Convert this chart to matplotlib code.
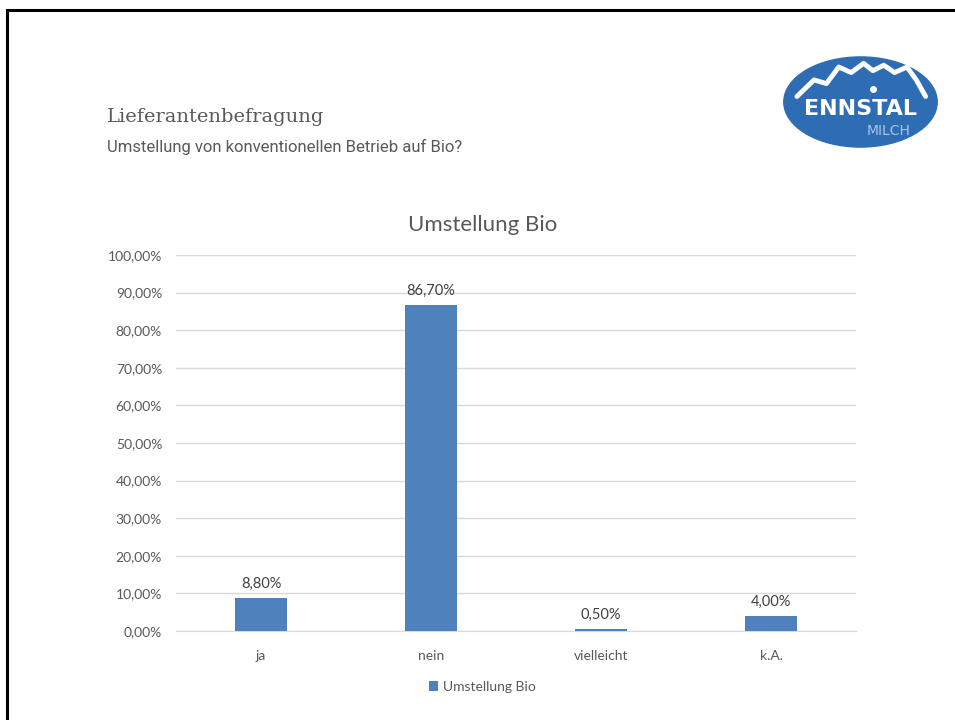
import matplotlib.pyplot as plt
from matplotlib.patches import Ellipse
from matplotlib.lines import Line2D

categories = ["ja", "nein", "vielleicht", "k.A."]
values = [8.80, 86.70, 0.50, 4.00]
series_name = "Umstellung Bio"

bar_color = "#4f81bd"
text_color = "#595959"

fig = plt.figure(figsize=(9.55, 7.2), dpi=100)
fig.patch.set_facecolor("white")

# slide frame (top and left edges visible)
fig.add_artist(Line2D([7 / 955, 7 / 955], [0, 1 - 10 / 720], color="black", lw=2.2))
fig.add_artist(Line2D([7 / 955, 1], [1 - 10 / 720, 1 - 10 / 720], color="black", lw=2.2))

# slide headings
fig.text(107 / 955, 1 - 117 / 720, "Lieferantenbefragung", family="DejaVu Serif",
         fontsize=14, color=text_color, va="center", ha="left")
fig.text(107 / 955, 1 - 147 / 720, "Umstellung von konventionellen Betrieb auf Bio?",
         family="Roboto", fontsize=12, color=text_color,
         va="center", ha="left")

# logo
logo = fig.add_axes([783 / 955, 1 - 148 / 720, 155 / 955, 92 / 720])
logo.set_xlim(0, 1)
logo.set_ylim(0, 1)
logo.axis("off")
logo.add_patch(Ellipse((0.5, 0.5), 0.99, 0.98, color="#2e6db4"))
mx = [0.09, 0.20, 0.28, 0.36, 0.44, 0.52, 0.58, 0.65, 0.72, 0.80, 0.86, 0.92]
my = [0.56, 0.74, 0.70, 0.88, 0.82, 0.92, 0.84, 0.90, 0.82, 0.88, 0.74, 0.56]
logo.plot(mx, my, color="white", lw=3.5, solid_capstyle="round")
logo.plot([0.58], [0.64], marker="o", color="white", ms=4)
logo.text(0.5, 0.42, "ENNSTAL", color="white", fontsize=16, fontweight="bold",
          ha="center", va="center", family="DejaVu Sans")
logo.text(0.68, 0.19, "MILCH", color="#a9c6ea", fontsize=10,
          ha="center", va="center", family="DejaVu Sans")

# chart
ax = fig.add_axes([176 / 955, 1 - 631 / 720, 680 / 955, 376 / 720])
x = range(len(categories))
bars = ax.bar(x, values, width=0.31, color=bar_color, label=series_name, zorder=3)
ax.set_xlim(-0.5, len(categories) - 0.5)
ax.set_ylim(0, 100)
ax.set_yticks(range(0, 101, 10))
ax.set_yticklabels([f"{v},00%" for v in range(0, 101, 10)])
ax.set_xticks(list(x))
ax.set_xticklabels(categories)
ax.grid(axis="y", color="#d9d9d9", lw=1, zorder=0)
for s in ["top", "right", "left"]:
    ax.spines[s].set_visible(False)
ax.spines["bottom"].set_color("#d9d9d9")
ax.tick_params(axis="both", length=0, labelsize=10, colors=text_color, labelfontfamily="Lato")
ax.tick_params(axis="x", pad=14)
ax.tick_params(axis="y", pad=10)

for b, v in zip(bars, values):
    ax.annotate(f"{v:.2f}%".replace(".", ","), (b.get_x() + b.get_width() / 2, v),
                xytext=(0, 5), textcoords="offset points", ha="center", va="bottom",
                fontsize=10.5, color="#404040", family="Lato")

fig.text(483 / 955, 1 - 225 / 720, "Umstellung Bio", fontsize=16, color=text_color,
         family="Lato", ha="center", va="center")

leg = ax.legend(loc="upper center", bbox_to_anchor=(0.45, -0.1), frameon=False,
                handlelength=0.7, handleheight=0.7, handletextpad=0.3,
                prop={"family": "Lato", "size": 10})
for t in leg.get_texts():
    t.set_color(text_color)

plt.savefig("out.png", dpi=100)
